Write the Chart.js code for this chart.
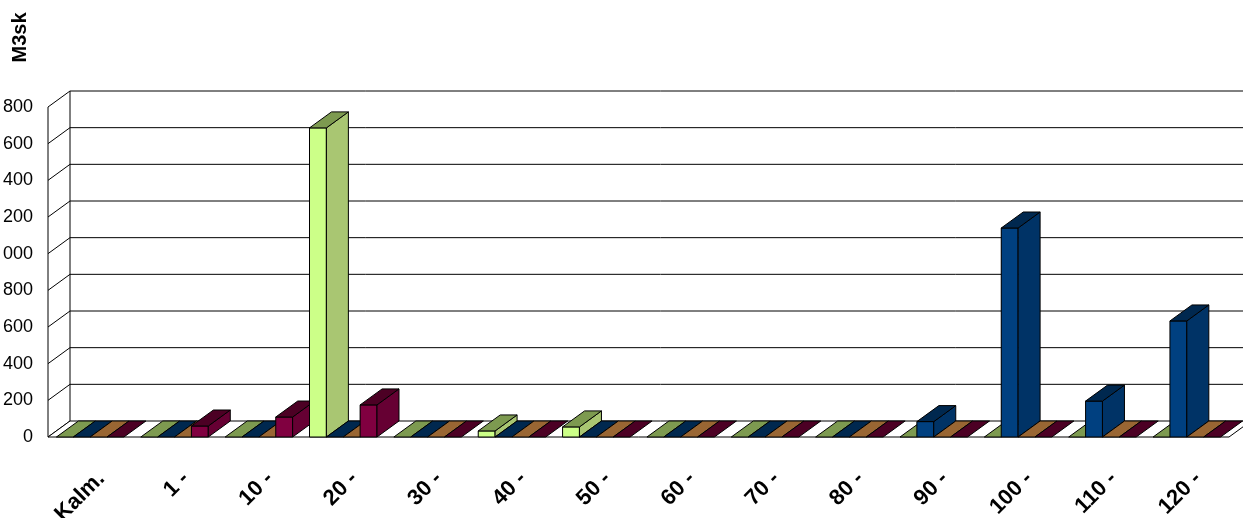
<!DOCTYPE html>
<html>
<head>
<meta charset="utf-8">
<script src="https://cdn.jsdelivr.net/npm/chart.js@4/dist/chart.umd.min.js"></script>
<style>
  html, body { margin: 0; padding: 0; background: #fff; overflow: hidden; }
  #wrap { position: absolute; left: -12px; top: 0; width: 1280px; height: 518px; }
</style>
</head>
<body>
<div id="wrap"><canvas id="chart"></canvas></div>
<script>
// categories (diameter classes) and the four series
const categories = ["Kalm.", "1 -", "10 -", "20 -", "30 -", "40 -", "50 -", "60 -", "70 -", "80 -", "90 -", "100 -", "110 -", "120 -"];
const greenValues  = [0, 0, 0, 1686, 0, 33, 55, 0, 0, 0, 0, 0, 0, 0];
const blueValues   = [0, 0, 0, 0, 0, 0, 0, 0, 0, 0, 84, 1140, 196, 633];
const brownValues  = [0, 0, 0, 0, 0, 0, 0, 0, 0, 0, 0, 0, 0, 0];
const maroonValues = [0, 60, 109, 175, 0, 0, 0, 0, 0, 0, 0, 0, 0, 0];
const yTicks = [0, 200, 400, 600, 800, 1000, 1200, 1400, 1600, 1800];
const yTitle = "M3sk";

// face colours: front, side, top
const faces = [
  { front: "#ccff88", side: "#a9c672", top: "#7d9a50" },
  { front: "#004080", side: "#003366", top: "#00284f" },
  { front: "#b07a40", side: "#8a5a28", top: "#996633" },
  { front: "#800040", side: "#660033", top: "#4c0024" }
];

const DX = 22, DY = -16;

function poly(ctx, pts, fill) {
  ctx.beginPath();
  ctx.moveTo(pts[0][0], pts[0][1]);
  for (let i = 1; i < pts.length; i++) ctx.lineTo(pts[i][0], pts[i][1]);
  ctx.closePath();
  if (fill) { ctx.fillStyle = fill; ctx.fill(); }
  ctx.stroke();
}

// walls, floor and fake depth for the bars
const bar3d = {
  id: "bar3d",
  beforeDatasetsDraw(chart) {
    const ctx = chart.ctx, a = chart.chartArea, y = chart.scales.y;
    ctx.save();
    ctx.strokeStyle = "#000";
    ctx.lineWidth = 1;
    yTicks.forEach(v => {
      const py = y.getPixelForValue(v);
      ctx.beginPath();
      ctx.moveTo(a.left, py);
      ctx.lineTo(a.left + DX, py + DY);
      if (v > 0) ctx.lineTo(a.right + DX, py + DY);
      ctx.stroke();
    });
    ctx.beginPath();
    ctx.moveTo(a.left, a.top); ctx.lineTo(a.left, a.bottom);
    ctx.moveTo(a.left + DX, a.top + DY); ctx.lineTo(a.left + DX, a.bottom + DY);
    ctx.stroke();
    poly(ctx, [[a.left, a.bottom], [a.right, a.bottom], [a.right + DX, a.bottom + DY], [a.left + DX, a.bottom + DY]], "#fff");
    ctx.restore();
  },
  afterDatasetsDraw(chart) {
    const ctx = chart.ctx;
    const bars = [];
    chart.getSortedVisibleDatasetMetas().forEach(meta => {
      meta.data.forEach(el => {
        const p = el.getProps(["x", "y", "base", "width"], true);
        bars.push({ p: p, f: faces[meta.index] });
      });
    });
    bars.sort((m, n) => m.p.x - n.p.x);
    ctx.save();
    ctx.strokeStyle = "#000";
    ctx.lineWidth = 1;
    bars.forEach(b => {
      const l = b.p.x - b.p.width / 2, r = b.p.x + b.p.width / 2;
      const top = Math.min(b.p.y, b.p.base), bot = Math.max(b.p.y, b.p.base);
      if (bot - top > 0.5) {
        poly(ctx, [[l, top], [r, top], [r, bot], [l, bot]], b.f.front);
        poly(ctx, [[r, top], [r, bot], [r + DX, bot + DY], [r + DX, top + DY]], b.f.side);
      }
      poly(ctx, [[l, top], [r, top], [r + DX, top + DY], [l + DX, top + DY]], b.f.top);
    });
    ctx.restore();
  },
  afterDraw(chart) {
    const ctx = chart.ctx;
    ctx.save();
    ctx.translate(32.5, 37.5);
    ctx.rotate(-Math.PI / 2);
    ctx.font = "bold 20px 'Liberation Sans', Arial, sans-serif";
    ctx.fillStyle = "#000";
    ctx.textAlign = "center";
    ctx.textBaseline = "middle";
    ctx.fillText(yTitle, 0, 0);
    ctx.restore();
  }
};

const ctx = document.getElementById("chart").getContext("2d");
new Chart(ctx, {
  type: "bar",
  data: {
    labels: categories,
    datasets: [greenValues, blueValues, brownValues, maroonValues].map((vals, i) => ({
      label: "S" + (i + 1),
      data: vals,
      backgroundColor: faces[i].front,
      borderColor: "#000",
      borderWidth: 1,
      categoryPercentage: 0.8,
      barPercentage: 1.0
    }))
  },
  options: {
    responsive: true,
    maintainAspectRatio: false,
    animation: false,
    layout: { padding: { top: 107, right: 39, left: 0, bottom: 0 } },
    scales: {
      x: {
        offset: true,
        grid: { display: false, drawTicks: false },
        border: { display: false },
        ticks: {
          autoSkip: false,
          maxRotation: 45,
          minRotation: 45,
          labelOffset: 11,
          padding: 29,
          color: "#000",
          font: { family: "'Liberation Sans', Arial, sans-serif", size: 22, weight: "bold" }
        },
        afterFit: s => { s.height = 81; }
      },
      y: {
        min: 0,
        max: 1800,
        grid: { display: false, drawTicks: false },
        border: { display: false },
        afterBuildTicks: s => { s.ticks = yTicks.map(v => ({ value: v })); },
        ticks: {
          padding: 15,
          color: "#000",
          font: { family: "'Liberation Sans', Arial, sans-serif", size: 18 },
          callback: v => v >= 1000 ? Math.floor(v / 1000) + " " + String(v % 1000).padStart(3, "0") : String(v)
        },
        afterFit: s => { s.width = 60; }
      }
    },
    plugins: {
      legend: { display: false },
      tooltip: { enabled: false }
    }
  },
  plugins: [bar3d]
});
</script>
</body>
</html>
